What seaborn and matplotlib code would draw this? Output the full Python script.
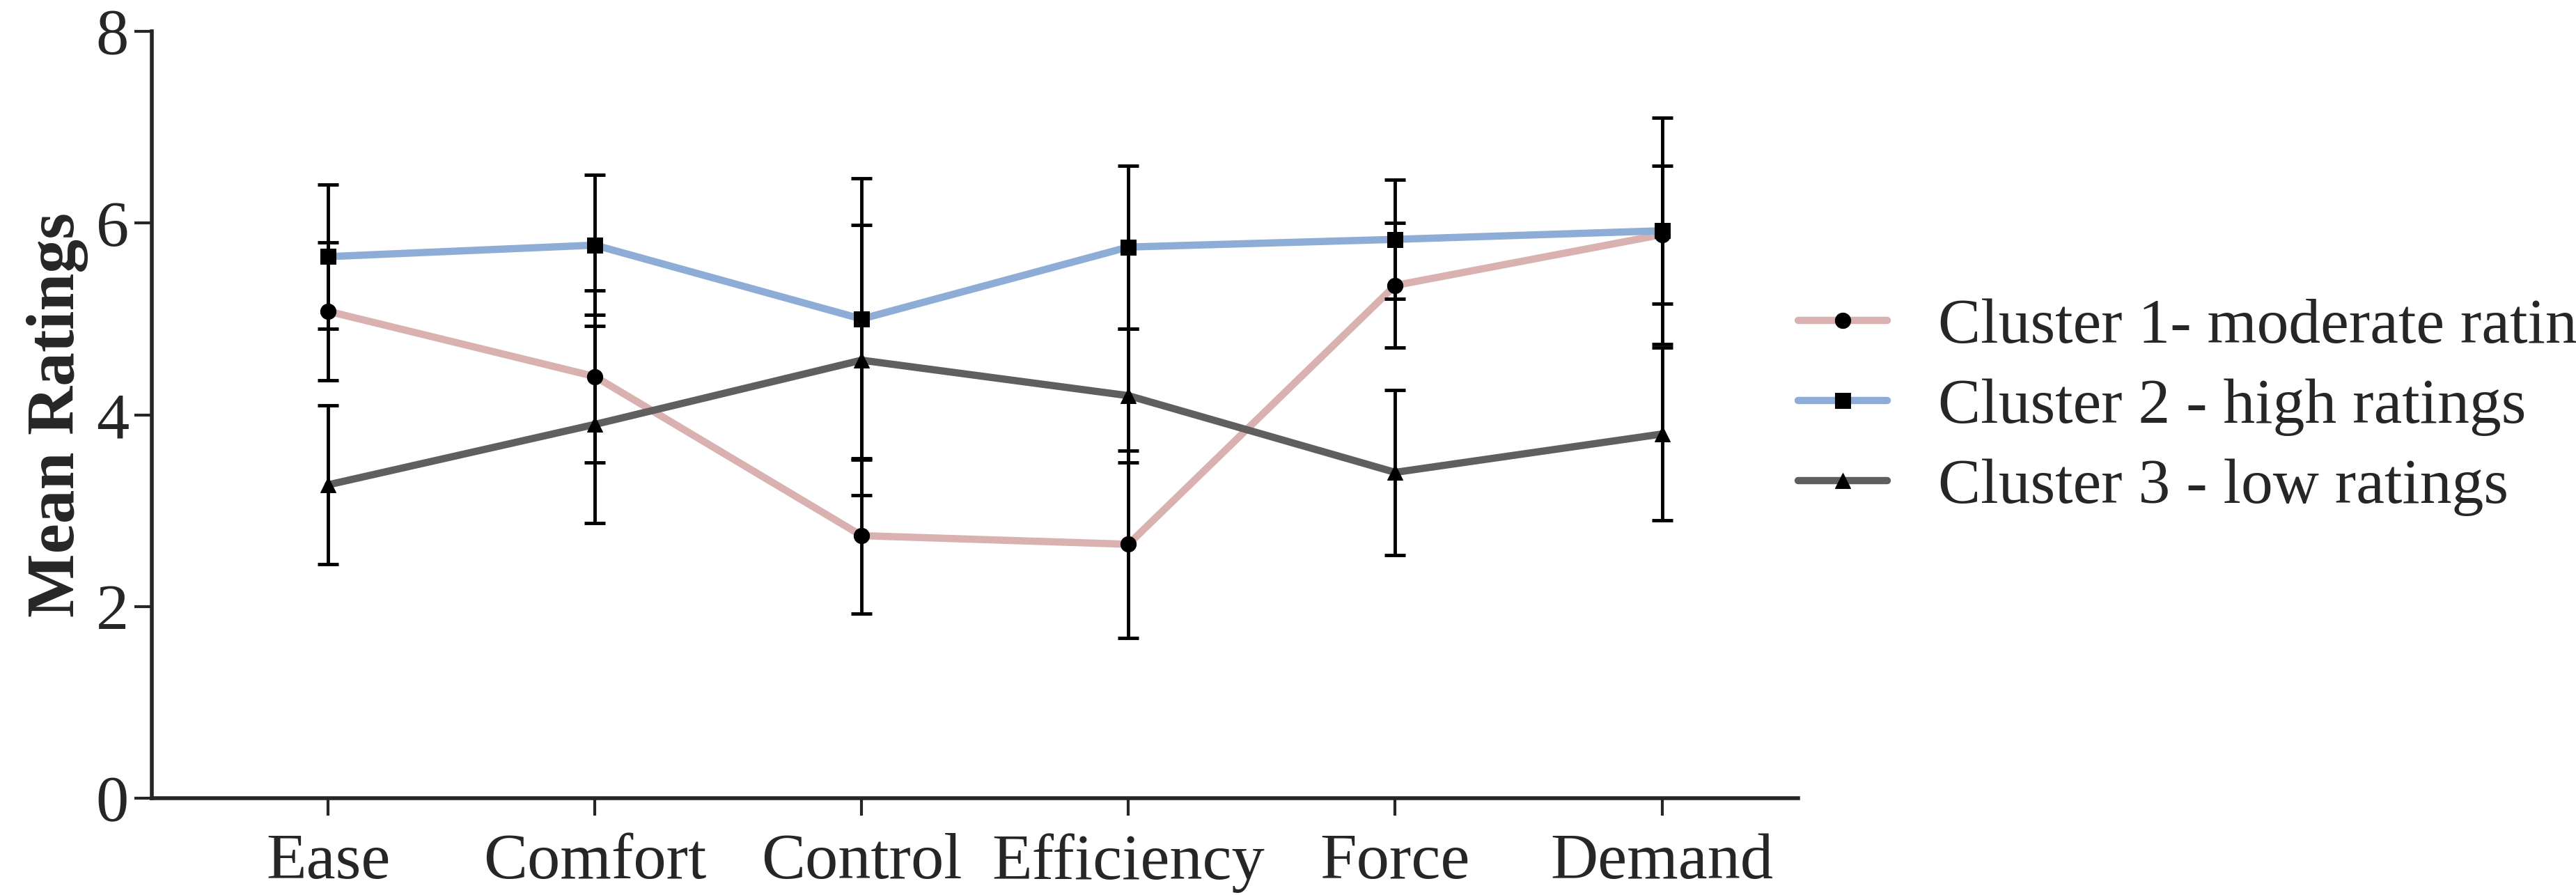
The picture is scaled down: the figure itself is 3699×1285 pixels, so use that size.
import matplotlib
matplotlib.use("Agg")
import matplotlib.pyplot as plt
import seaborn as sns
import pandas as pd
import numpy as np

categories = ["Ease", "Comfort", "Control", "Efficiency", "Force", "Demand"]
series_names = ["Cluster 1- moderate ratings", "Cluster 2 - high ratings", "Cluster 3 - low ratings"]
c1_mean = [5.08, 4.40, 2.74, 2.65, 5.35, 5.88]
c1_sd = [0.72, 0.90, 0.81, 0.98, 0.65, 0.72]
c2_mean = [5.65, 5.77, 5.00, 5.75, 5.83, 5.92]
c2_sd = [0.75, 0.73, 1.47, 0.85, 0.62, 1.18]
c3_mean = [3.27, 3.90, 4.57, 4.20, 3.40, 3.80]
c3_sd = [0.83, 1.03, 1.41, 0.70, 0.86, 0.90]
colors = ["#d8b1b0", "#8dadd6", "#5f5f5f"]
markers = ["o", "s", "^"]

sns.set_style("ticks")
plt.rcParams["font.family"] = ["Liberation Serif", "DejaVu Serif"]

rows = []
for name, m in zip(series_names, [c1_mean, c2_mean, c3_mean]):
    for i, c in enumerate(categories):
        rows.append({"cat": c, "x": i, "mean": m[i], "series": name})
df = pd.DataFrame(rows)

fig = plt.figure(figsize=(36.99, 12.85), dpi=100)
ax = fig.add_axes([0.059, 0.108, 0.639, 0.857])

for name, m, sd, col, mk in zip(series_names, [c1_mean, c2_mean, c3_mean],
                                [c1_sd, c2_sd, c3_sd], colors, markers):
    ax.errorbar(range(len(categories)), m, yerr=sd, fmt="none", ecolor="black",
                elinewidth=3.5, capsize=11, capthick=3.5, zorder=3)
sns.lineplot(data=df, x="x", y="mean", hue="series", style="series",
             palette=colors, markers=markers, dashes=False, linewidth=7.5,
             markersize=16, markeredgecolor="black", markerfacecolor="black",
             ax=ax, zorder=2)
for ln in ax.lines:
    ln.set_markerfacecolor("black")
    ln.set_markeredgecolor("black")

ax.set_xlim(-0.66, 5.51)
ax.set_ylim(0, 8)
ax.set_yticks([0, 2, 4, 6, 8])
ax.set_xticks(range(len(categories)))
ax.set_xticklabels(categories)
ax.tick_params(axis="both", labelsize=68, width=3, length=18, direction="out")
ax.tick_params(axis="x", pad=18)
ax.tick_params(axis="y", pad=6)
ax.set_xlabel("")
ax.set_ylabel("Mean Ratings", fontsize=70, fontweight="bold", labelpad=8)
for s in ["top", "right"]:
    ax.spines[s].set_visible(False)
for s in ["left", "bottom"]:
    ax.spines[s].set_linewidth(4)

handles, labels = ax.get_legend_handles_labels()
ax.legend(handles, labels, loc="center left", bbox_to_anchor=(0.965, 0.51),
          frameon=False, fontsize=66, handlelength=1.4, handletextpad=0.8,
          labelspacing=0.35)

fig.savefig("out.png", dpi=100)
